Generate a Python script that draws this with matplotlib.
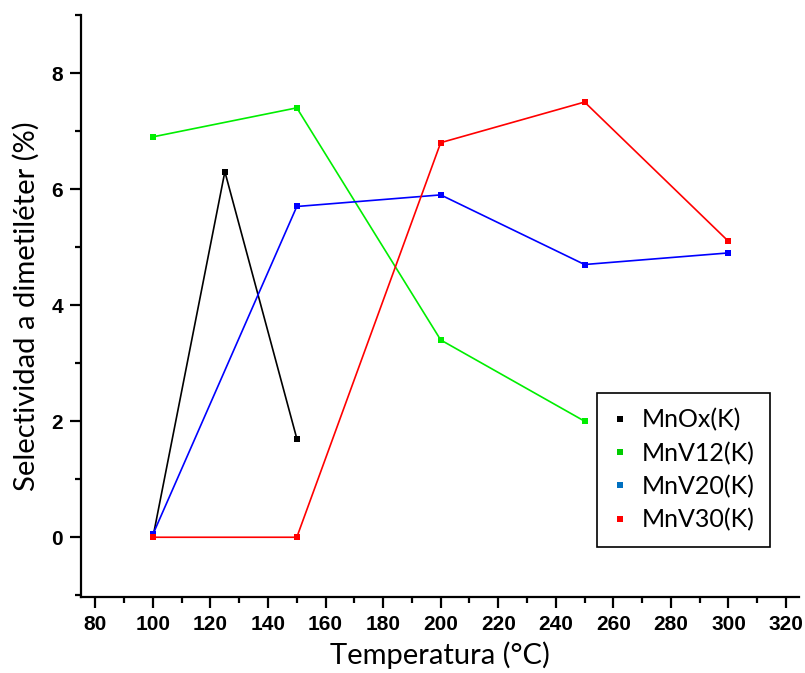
import matplotlib
matplotlib.use("Agg")
import matplotlib.pyplot as plt
from matplotlib.lines import Line2D
from matplotlib.ticker import MultipleLocator

# data
temp_ox = [100, 125, 150]
sel_ox = [0.0, 6.3, 1.7]

temp_v12 = [100, 150, 200, 250]
sel_v12 = [6.9, 7.4, 3.4, 2.0]

temp_v20 = [100, 150, 200, 250, 300]
sel_v20 = [0.05, 5.7, 5.9, 4.7, 4.9]

temp_v30 = [100, 150, 200, 250, 300]
sel_v30 = [0.0, 0.0, 6.8, 7.5, 5.1]

labels = ["MnOx(K)", "MnV12(K)", "MnV20(K)", "MnV30(K)"]
line_colors = ["#000000", "#00ee00", "#0000ff", "#ff0000"]
legend_colors = ["#000000", "#00cc00", "#0070c0", "#ff0000"]

fig = plt.figure(figsize=(8.05, 6.73), dpi=100)
ax = fig.add_axes([0.1006, 0.1129, 0.8919, 0.8648])

series = [(temp_ox, sel_ox), (temp_v12, sel_v12), (temp_v20, sel_v20), (temp_v30, sel_v30)]
for (x, y), c in zip(series, line_colors):
    ax.plot(x, y, color=c, lw=1.2, marker="s", markersize=4.5, markeredgewidth=0)

ax.set_xlim(75, 324.5)
ax.set_ylim(-1.03, 9)
ax.xaxis.set_major_locator(MultipleLocator(20))
ax.xaxis.set_minor_locator(MultipleLocator(10))
ax.yaxis.set_major_locator(MultipleLocator(2))
ax.yaxis.set_minor_locator(MultipleLocator(1))

for s in ["top", "right"]:
    ax.spines[s].set_visible(False)
for s in ["left", "bottom"]:
    ax.spines[s].set_linewidth(1.6)

ax.tick_params(which="major", direction="out", length=8, width=1.6, pad=5)
ax.tick_params(which="minor", direction="out", length=4, width=1.6)
for lab in ax.get_xticklabels() + ax.get_yticklabels():
    lab.set_family("Liberation Sans")
    lab.set_fontweight("bold")
    lab.set_fontsize(15)

ax.set_xlabel("Temperatura (°C)", family="Lato", fontsize=21, labelpad=5)
ax.set_ylabel("Selectividad a dimetiléter (%)", family="Lato", fontsize=21, labelpad=8)

handles = [Line2D([], [], ls="none", marker="s", markersize=4, markeredgewidth=0, color=c)
           for c in legend_colors]
leg = ax.legend(handles, labels, loc="upper left", bbox_to_anchor=(0.719, 0.35),
                prop={"family": "Lato", "size": 18}, fancybox=False, framealpha=1,
                edgecolor="black", handlelength=0.6, handletextpad=0.6,
                labelspacing=0.4, borderpad=0.6, borderaxespad=0)
leg.get_frame().set_linewidth(1.2)

fig.savefig("out.png", dpi=100)
